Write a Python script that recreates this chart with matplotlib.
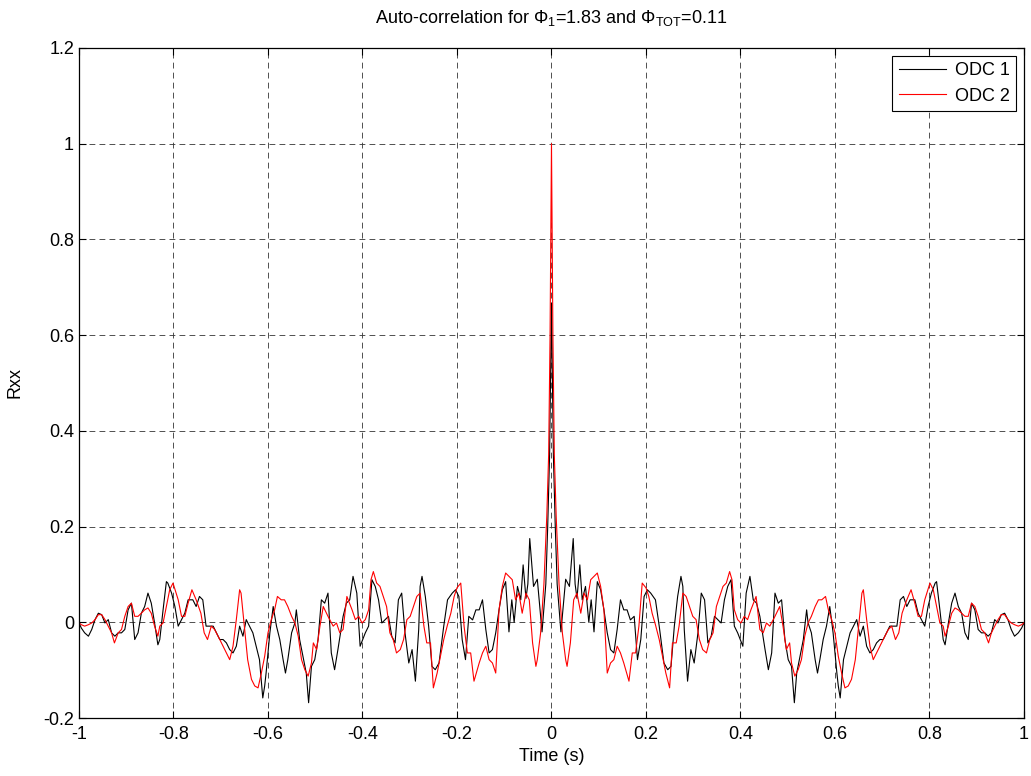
import numpy as np
import matplotlib
matplotlib.use("Agg")
import matplotlib.pyplot as plt
from matplotlib.ticker import FuncFormatter

plt.rcParams['font.family'] = ['Liberation Sans', 'DejaVu Sans']
plt.rcParams['mathtext.fontset'] = 'custom'
plt.rcParams['mathtext.rm'] = 'Liberation Sans'
plt.rcParams['mathtext.it'] = 'Liberation Sans:italic'

# right half of the (symmetric) auto-correlation
t_odc1 = [0, 0.004, 0.008, 0.012, 0.02, 0.03, 0.038, 0.046, 0.05, 0.054, 0.06, 0.065,
          0.072, 0.079, 0.084, 0.09, 0.097, 0.104, 0.111, 0.118, 0.125, 0.132, 0.139,
          0.146, 0.153, 0.16, 0.167, 0.175, 0.182, 0.189, 0.196, 0.203, 0.21, 0.22,
          0.228, 0.238, 0.246, 0.253, 0.26, 0.267, 0.274, 0.278, 0.281, 0.288, 0.295,
          0.302, 0.31, 0.317, 0.324, 0.331, 0.338, 0.345, 0.352, 0.359, 0.366, 0.373,
          0.38, 0.387, 0.394, 0.405, 0.412, 0.42, 0.427, 0.434, 0.441, 0.452, 0.459,
          0.466, 0.473, 0.48, 0.487, 0.494, 0.501, 0.508, 0.514, 0.519, 0.526, 0.533,
          0.54, 0.543, 0.55, 0.558, 0.563, 0.568, 0.575, 0.582, 0.589, 0.596, 0.604,
          0.607, 0.611, 0.618, 0.625, 0.632, 0.639, 0.646, 0.653, 0.66, 0.667, 0.674,
          0.681, 0.688, 0.695, 0.702, 0.709, 0.716, 0.723, 0.731, 0.738, 0.745, 0.752,
          0.759, 0.769, 0.776, 0.783, 0.79, 0.797, 0.804, 0.812, 0.815, 0.822, 0.829,
          0.833, 0.84, 0.847, 0.854, 0.861, 0.868, 0.875, 0.882, 0.889, 0.896, 0.903,
          0.91, 0.917, 0.924, 0.931, 0.938, 0.945, 0.952, 0.959, 0.966, 0.973, 0.98,
          0.988, 0.995, 1.0]
r_odc1 = [0.667, 0.35, 0.2, 0.08, -0.02, 0.09, 0.075, 0.175, 0.08, 0.05, 0.12, 0.047,
          0.075, 0.0, 0.047, -0.02, 0.085, 0.068, 0.026, -0.022, -0.057, -0.064, -0.015,
          0.047, 0.026, 0.026, 0.005, 0.0125, -0.078, -0.036, 0.054, 0.068, 0.061, 0.047,
          -0.008, -0.085, -0.099, -0.092, -0.008, 0.054, 0.096, 0.075, -0.015, -0.123, -0.057,
          -0.085, -0.022, 0.061, 0.047, -0.043, -0.029, 0.0125, 0.0056, -0.0014, 0.047, 0.075,
          0.089, -0.008, -0.022, -0.05, 0.061, 0.096, 0.047, 0.04, 0.0125, -0.057, -0.099,
          -0.064, 0.061, 0.04, 0.047, -0.036, -0.078, -0.092, -0.168, -0.106, -0.071, -0.036,
          0.026, -0.001, -0.022, -0.078, -0.106, -0.078, -0.036, -0.008, 0.033, -0.022, -0.106,
          -0.133, -0.158, -0.078, -0.05, -0.022, -0.008, 0.0056, -0.029, -0.008, -0.05, -0.064,
          -0.057, -0.043, -0.036, -0.036, -0.022, -0.008, -0.008, -0.008, 0.047, 0.054, 0.033,
          0.047, 0.047, 0.019, 0.0056, -0.008, 0.033, 0.061, 0.082, 0.085, 0.026, -0.036,
          -0.047, -0.0014, 0.04, 0.061, 0.033, 0.019, -0.022, -0.036, 0.04, 0.026, -0.015,
          -0.022, -0.022, -0.029, -0.022, 0.0056, -0.0014, 0.016, 0.019, 0.0056, -0.015, -0.029,
          -0.022, -0.012, -0.001]

t_odc2 = [0, 0.003, 0.006, 0.01, 0.016, 0.023, 0.03, 0.033, 0.04, 0.047, 0.054, 0.062,
          0.069, 0.076, 0.083, 0.09, 0.097, 0.104, 0.111, 0.118, 0.125, 0.132, 0.139,
          0.146, 0.153, 0.164, 0.171, 0.178, 0.185, 0.192, 0.2, 0.206, 0.213, 0.22, 0.228,
          0.235, 0.242, 0.25, 0.256, 0.264, 0.27, 0.278, 0.285, 0.292, 0.299, 0.306, 0.313,
          0.32, 0.328, 0.335, 0.342, 0.349, 0.356, 0.363, 0.37, 0.377, 0.382, 0.387, 0.394,
          0.401, 0.408, 0.415, 0.422, 0.433, 0.441, 0.448, 0.455, 0.462, 0.473, 0.483, 0.49,
          0.497, 0.504, 0.508, 0.515, 0.522, 0.529, 0.536, 0.543, 0.55, 0.558, 0.565, 0.572,
          0.58, 0.586, 0.593, 0.6, 0.607, 0.614, 0.621, 0.628, 0.635, 0.643, 0.65, 0.657,
          0.66, 0.667, 0.674, 0.681, 0.688, 0.695, 0.702, 0.713, 0.72, 0.728, 0.735, 0.742,
          0.752, 0.761, 0.769, 0.776, 0.783, 0.79, 0.801, 0.808, 0.815, 0.822, 0.829, 0.833,
          0.84, 0.847, 0.854, 0.861, 0.868, 0.875, 0.882, 0.889, 0.896, 0.903, 0.91, 0.917,
          0.925, 0.931, 0.938, 0.945, 0.952, 0.959, 0.966, 0.973, 0.98, 0.988, 0.995, 1.0]
r_odc2 = [1.0, 0.6, 0.35, 0.22, 0.08, -0.022, -0.078, -0.092, -0.043, 0.047, 0.061, 0.019,
          0.061, 0.047, 0.089, 0.096, 0.103, 0.075, 0.026, -0.106, -0.085, -0.078, -0.05,
          -0.064, -0.085, -0.123, -0.064, -0.064, -0.008, 0.082, 0.072, 0.054, 0.019, -0.005, -0.036,
          -0.071, -0.106, -0.137, -0.043, -0.043, -0.008, 0.061, 0.054, 0.033, 0.0125, 0.0056, -0.036,
          -0.057, -0.064, -0.036, -0.022, 0.033, 0.054, 0.075, 0.082, 0.106, 0.089, 0.026, 0.0056,
          -0.0014, 0.0125, 0.0056, 0.026, 0.054, -0.015, -0.022, -0.0014, -0.008, 0.0125, 0.033, -0.008,
          -0.057, -0.043, -0.085, -0.1125, -0.099, -0.078, -0.029, -0.0014, 0.0125, 0.033, 0.047, 0.047,
          0.054, 0.026, 0.0056, -0.022, -0.071, -0.106, -0.137, -0.133, -0.119, -0.078, -0.008, 0.061,
          0.068, 0.0056, -0.05, -0.078, -0.064, -0.05, -0.036, -0.015, -0.008, -0.036, -0.022, 0.019,
          0.047, 0.068, 0.04, 0.0125, 0.0125, 0.047, 0.082, 0.068, 0.033, -0.0014, -0.008, -0.029,
          -0.008, 0.019, 0.03, 0.026, 0.019, 0.0125, 0.0125, 0.04, 0.033, 0.0125, -0.015, -0.022,
          -0.043, -0.022, -0.008, 0.0056, 0.016, 0.016, 0.0056, -0.0014, -0.005, -0.008, -0.005, -0.001]


def mirror(t, r):
    t = np.array(t)
    r = np.array(r)
    return np.concatenate([-t[::-1], t[1:]]), np.concatenate([r[::-1], r[1:]])


x1, y1 = mirror(t_odc1, r_odc1)
x2, y2 = mirror(t_odc2, r_odc2)

fig = plt.figure(figsize=(10.31, 7.76), dpi=100)
ax = fig.add_axes([0.0766, 0.0747, 0.9166, 0.8635])

ax.plot(x1, y1, color='black', lw=0.8, label='ODC 1')
ax.plot(x2, y2, color='red', lw=0.8, label='ODC 2')

ax.set_xlim(-1, 1)
ax.set_ylim(-0.2, 1.2)
ax.set_xticks(np.arange(-1, 1.01, 0.2))
ax.set_yticks(np.arange(-0.2, 1.21, 0.2))
fmt = FuncFormatter(lambda v, p: f"{round(v, 2):g}" if abs(v) > 1e-9 else "0")
ax.xaxis.set_major_formatter(fmt)
ax.yaxis.set_major_formatter(fmt)
ax.tick_params(direction='in', top=True, right=True, labelsize=13, length=5, width=0.8)
ax.tick_params(axis='x', pad=6)
ax.grid(True, color='#333333', linestyle=(0, (7, 5)), linewidth=0.6)
for s in ax.spines.values():
    s.set_linewidth(0.9)

ax.set_xlabel('Time (s)', fontsize=13, labelpad=3)
ax.set_ylabel('Rxx', fontsize=13, labelpad=14)
ax.set_title(r'Auto-correlation for $\Phi_{\mathrm{1}}$=1.83 and $\Phi_{\mathrm{TOT}}$=0.11', fontsize=13, pad=18)

leg = ax.legend(loc='upper right', fontsize=13, fancybox=False, framealpha=1,
                edgecolor='black', handlelength=2.6, borderpad=0.35, labelspacing=0.45,
                borderaxespad=0.45, handletextpad=0.5)
leg.get_frame().set_linewidth(0.8)

fig.savefig('out.png', dpi=100)
